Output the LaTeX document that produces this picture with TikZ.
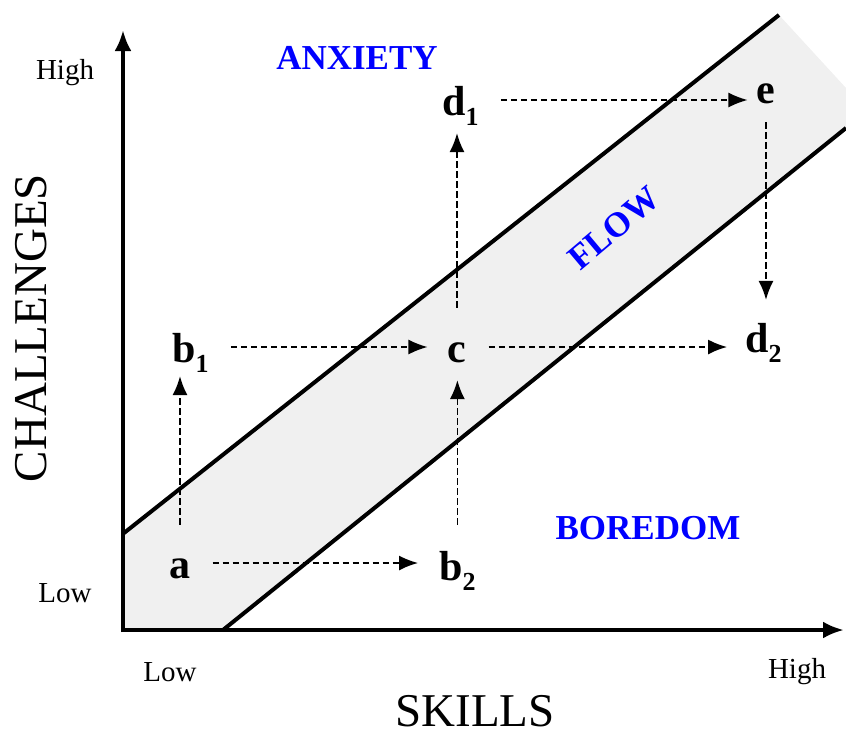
\documentclass[tikz,border=0pt]{standalone}
\usepackage{fontspec}
\setmainfont{Liberation Serif}
\usetikzlibrary{arrows.meta}
\definecolor{bandgray}{RGB}{240,240,240}
\definecolor{lblue}{RGB}{0,0,255}
\tikzset{
  axis/.style={line width=4pt,-{Latex[length=21pt,width=17pt]}},
  bandline/.style={line width=4pt},
  dar/.style={line width=1.5pt,dash pattern=on 6.5pt off 3.5pt,-{Latex[length=19pt,width=15pt]}},
  lbl/.style={inner sep=0pt,text height=30pt,text depth=0pt,font=\fontsize{42}{42}\selectfont\bfseries},
  tick/.style={inner sep=0pt,font=\fontsize{29}{29}\selectfont},
  axtitle/.style={inner sep=0pt,font=\fontsize{47}{47}\selectfont},
  zone/.style={inner sep=0pt,text=lblue,font=\fontsize{35}{35}\selectfont\bfseries}
}
\newcommand{\sbs}[1]{\raisebox{-10pt}{\fontsize{26}{26}\selectfont\bfseries #1}}
\begin{document}
\begin{tikzpicture}[x=1pt,y=-1pt]
\useasboundingbox (0,0) rectangle (846,731);
% band
\fill[bandgray] (124,533) -- (779,15) -- (846,88) -- (846,128) -- (223,630) -- (124,630) -- cycle;
\draw[bandline] (124,533) -- (779,15);
\draw[bandline] (223,630) -- (846,128);
% axes
\coordinate (ytop) at (123,30);
\coordinate (xend) at (844,630);
\draw[axis] (123,632) -- (ytop);
\draw[axis] (121,630) -- (xend);
% tick labels
\node[tick] (yhigh) at (65,73) {High};
\node[tick] (ylow) at (65,593) {Low};
\node[tick] (xlow) at (170,672) {Low};
\node[tick] (xhigh) at (797,672) {High};
\node[axtitle,rotate=90] (ytitle) at (31,328) {CHALLENGES};
\node[axtitle] (xtitle) at (475,711) {SKILLS};
% zones
\node[zone] (anx) at (357,58) {ANXIETY};
\node[zone] (bor) at (648,528) {BOREDOM};
\node[zone,rotate=40] (flow) at (614,228) {FLOW};
% states
\node[lbl,anchor=base] (a) at (180,578) {a};
\node[lbl,anchor=base west] (b2) at (439,580) {b\sbs{2}};
\node[lbl,anchor=base west] (b1) at (172,362) {b\sbs{1}};
\node[lbl,anchor=base] (c) at (457,362) {c};
\node[lbl,anchor=base west] (d1) at (442,115) {d\sbs{1}};
\node[lbl,anchor=base west] (d2) at (745,352) {d\sbs{2}};
\node[lbl,anchor=base] (e) at (766,103) {e};
% transitions
\draw[dar,shorten <=22pt,shorten >=21pt] (a.east) -- (a.east -| b2.west);
\draw[dar,shorten <=23pt,shorten >=14pt] (a.north) -- (a.north |- b1.south);
\draw[dar,shorten <=22pt,shorten >=20pt] (b1.east) -- (b1.east -| c.west);
\draw[dar,shorten <=25pt,shorten >=18pt] (b2.north) -- (b2.north |- c.south);
\draw[dar,shorten <=24pt,shorten >=18pt] (c.north) -- (c.north |- d1.south);
\draw[dar,shorten <=22pt,shorten >=18pt] (c.east) -- (c.east -| d2.west);
\draw[dar,shorten <=22pt,shorten >=9pt] (d1.east) -- (d1.east -| e.west);
\draw[dar,shorten <=19pt,shorten >=22pt] (e.south) -- (e.south |- d2.north);
\end{tikzpicture}
\end{document}
